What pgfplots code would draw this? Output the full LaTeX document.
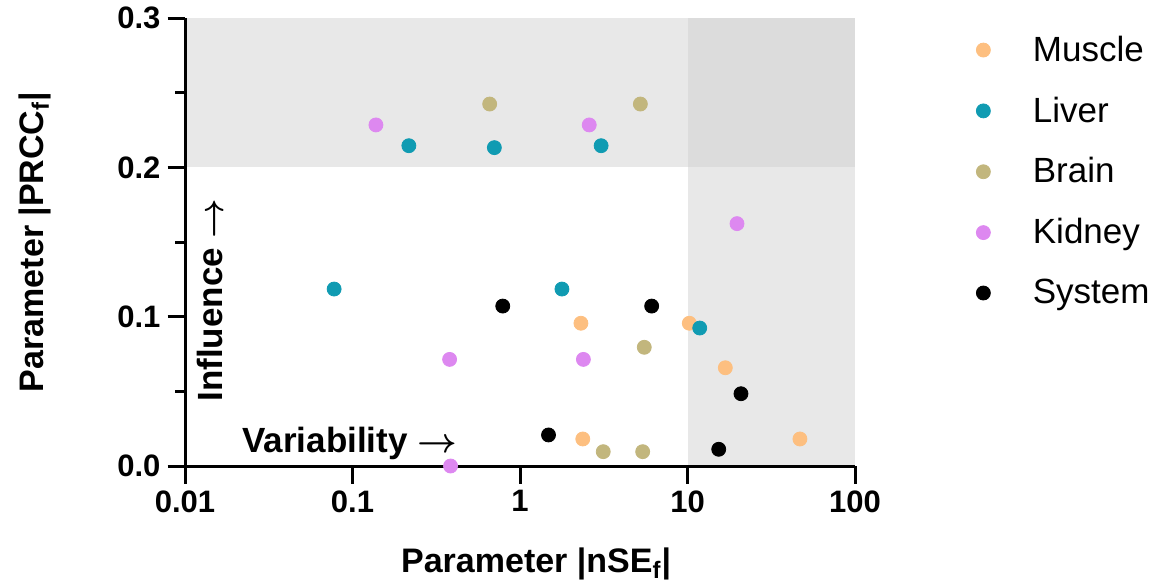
\documentclass[border=0pt]{standalone}
\usepackage{fontspec}
\setmainfont{Liberation Sans}
\usepackage{pgfplots}
\pgfplotsset{compat=1.18}
\definecolor{cMuscle}{HTML}{FDBF80}
\definecolor{cLiver}{HTML}{109BB2}
\definecolor{cBrain}{HTML}{C2B67D}
\definecolor{cKidney}{HTML}{DD88F0}
\definecolor{cSystem}{HTML}{000000}
\definecolor{shadeA}{HTML}{E8E8E8}
\definecolor{shadeB}{HTML}{DCDCDC}
\begin{document}
\begin{tikzpicture}
\begin{axis}[
  set layers,
  scale only axis, width=335pt, height=224pt,
  xmode=log, xmin=0.01, xmax=100, ymin=0, ymax=0.3,
  axis x line*=bottom, axis y line*=left,
  axis line style={line width=1.5pt, -},
  xtick={0.01,0.1,1,10,100}, xticklabels={0.01,0.1,1,10,100},
  xminorticks=false,
  ytick={0,0.1,0.2,0.3}, yticklabels={0.0,0.1,0.2,0.3},
  minor ytick={0.05,0.15,0.25},
  tick align=outside,
  major tick length=8.75pt, minor tick length=5pt,
  every tick/.style={black, line width=1.5pt},
  tick label style={font=\fontsize{15.5}{18}\selectfont\bfseries},
  /pgf/number format/assume math mode=true,
  xlabel={Parameter |nSE\textsubscript{f}|},
  ylabel={Parameter |PRCC\textsubscript{f}|},
  xlabel style={at={(axis description cs:0.524,-0.219)}, anchor=center, font=\fontsize{17}{20}\selectfont\bfseries},
  ylabel style={at={(axis description cs:-0.224,0.5)}, anchor=center, font=\fontsize{17}{20}\selectfont\bfseries},
  legend style={at={(1.174,0.97)}, anchor=north west, draw=none, fill=none, inner sep=0pt,
    font=\fontsize{17.5}{21}\selectfont, row sep=12.25pt},
  legend cell align=left,
  legend image code/.code={\path[draw=none,fill=none] (0cm,0cm) -- (1cm,0cm); \path[#1,draw=none] plot[only marks,mark options={draw,fill}] coordinates {(0.2cm,0cm)};},
  clip=false,
]
\begin{pgfonlayer}{axis background}
\fill[shadeA] (axis cs:0.01,0.2) rectangle (axis cs:10,0.3);
\fill[shadeA] (axis cs:10,0) rectangle (axis cs:100,0.2);
\fill[shadeB] (axis cs:10,0.2) rectangle (axis cs:100,0.3);
\end{pgfonlayer}

\addplot[only marks, mark=*, mark size=3.5pt, color=cMuscle] coordinates {
(2.31,0.0956) (10.25,0.0956) (16.82,0.0658) (2.37,0.0181) (46.9,0.0181)};
\addlegendentry{Muscle}
\addplot[only marks, mark=*, mark size=3.5pt, color=cLiver] coordinates {
(0.0777,0.1185) (0.217,0.2145) (0.703,0.2132) (3.05,0.2145) (1.78,0.1185) (11.83,0.0924)};
\addlegendentry{Liver}
\addplot[only marks, mark=*, mark size=3.5pt, color=cBrain] coordinates {
(0.659,0.2424) (5.23,0.2424) (5.52,0.0795) (3.14,0.0096) (5.40,0.0096)};
\addlegendentry{Brain}
\addplot[only marks, mark=*, mark size=3.5pt, color=cKidney] coordinates {
(0.138,0.2284) (2.59,0.2284) (0.380,0.0714) (2.39,0.0714) (0.385,0.0) (19.75,0.1623)};
\addlegendentry{Kidney}
\addplot[only marks, mark=*, mark size=3.5pt, color=cSystem] coordinates {
(0.789,0.1071) (6.11,0.1071) (20.86,0.0484) (1.48,0.0208) (15.36,0.0112)};
\addlegendentry{System}

\node[anchor=base west, inner sep=0pt, font=\fontsize{17.5}{21}\selectfont\bfseries\boldmath] at (rel axis cs:0.085,0.031) {Variability $\rightarrow$};
\node[anchor=base west, inner sep=0pt, rotate=90, font=\fontsize{17.5}{21}\selectfont\bfseries\boldmath] at (rel axis cs:0.0567,0.143) {Influence $\rightarrow$};
\end{axis}
\pgfresetboundingbox
\path[use as bounding box] (-92.5pt,-60pt) rectangle (487pt,233pt);
\end{tikzpicture}
\end{document}
